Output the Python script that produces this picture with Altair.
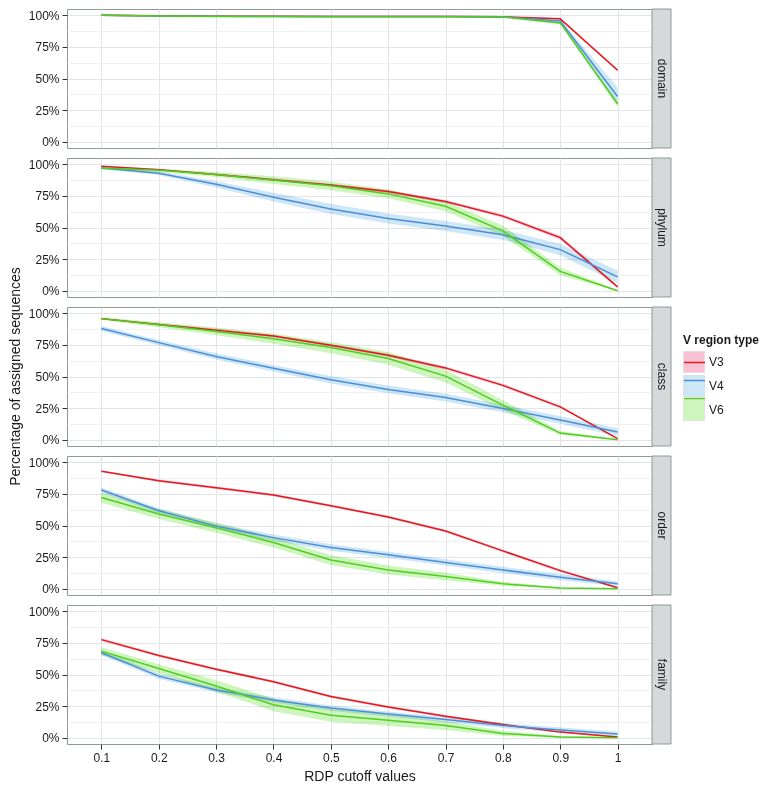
import altair as alt
import pandas as pd

cutoffs = ["0.1", "0.2", "0.3", "0.4", "0.5", "0.6", "0.7", "0.8", "0.9", "1"]
levels = ["domain", "phylum", "class", "order", "family"]
regions = ["V3", "V4", "V6"]

# mean percentage of assigned sequences
domain_V3 = [100.0, 99.6, 99.3, 99.2, 99.1, 99.1, 99.1, 98.9, 97.2, 56.5]
domain_V4 = [100.0, 99.5, 99.2, 99.1, 99.0, 99.0, 99.0, 98.8, 95.5, 35.8]
domain_V6 = [100.0, 99.5, 99.1, 99.0, 98.9, 98.9, 98.9, 98.6, 94.0, 29.9]
phylum_V3 = [98.4, 95.8, 92.0, 87.8, 83.6, 78.4, 70.6, 59.0, 42.0, 3.0]
phylum_V4 = [97.1, 93.0, 84.2, 74.0, 64.7, 57.1, 51.2, 44.2, 32.5, 10.9]
phylum_V6 = [97.1, 95.3, 92.0, 87.5, 83.0, 76.6, 66.8, 47.3, 15.3, 0.0]
class_V3 = [95.8, 91.1, 86.7, 82.0, 74.7, 66.9, 56.8, 43.0, 26.0, 0.8]
class_V4 = [88.0, 76.8, 65.9, 56.5, 47.4, 39.8, 33.3, 24.7, 15.6, 6.0]
class_V6 = [95.8, 90.9, 85.7, 79.9, 72.9, 64.3, 50.3, 27.3, 5.2, 0.0]
order_V3 = [93.0, 85.4, 79.9, 74.2, 65.6, 56.8, 45.6, 29.9, 14.3, 0.8]
order_V4 = [78.1, 61.7, 49.5, 40.4, 32.6, 26.8, 20.8, 14.8, 9.1, 3.9]
order_V6 = [72.1, 59.1, 48.2, 36.5, 22.7, 14.8, 9.6, 3.9, 0.5, 0.0]
family_V3 = [77.6, 65.1, 54.2, 44.3, 32.6, 24.2, 16.9, 10.4, 4.4, 0.5]
family_V4 = [67.2, 48.7, 37.8, 29.9, 23.4, 18.8, 14.3, 9.6, 6.0, 2.9]
family_V6 = [68.5, 54.7, 40.9, 26.0, 17.7, 13.8, 9.6, 3.4, 0.5, 0.0]

# half-width of the shaded band (standard error)
domain_V3_se = [0.2, 0.3, 0.3, 0.3, 0.3, 0.3, 0.3, 0.3, 0.5, 1.0]
domain_V4_se = [0.2, 0.3, 0.3, 0.3, 0.3, 0.3, 0.3, 0.4, 1.2, 7.0]
domain_V6_se = [0.2, 0.3, 0.3, 0.3, 0.3, 0.3, 0.3, 0.4, 1.0, 2.5]
phylum_V3_se = [0.5, 0.6, 0.8, 1.0, 1.0, 1.0, 1.2, 1.2, 1.5, 1.0]
phylum_V4_se = [1.0, 1.5, 2.5, 3.5, 4.0, 4.0, 4.0, 4.0, 4.5, 5.0]
phylum_V6_se = [1.0, 1.2, 2.0, 3.0, 3.5, 3.5, 4.0, 4.0, 3.0, 0.5]
class_V3_se = [0.5, 0.8, 1.0, 1.0, 1.0, 1.2, 1.2, 1.2, 1.0, 0.5]
class_V4_se = [2.0, 2.0, 2.5, 2.5, 3.0, 3.0, 3.0, 3.0, 3.0, 3.0]
class_V6_se = [1.0, 2.0, 3.0, 4.0, 4.5, 5.0, 5.0, 4.0, 1.5, 0.3]
order_V3_se = [0.5, 1.0, 1.0, 1.0, 1.0, 1.0, 1.0, 1.0, 1.0, 0.5]
order_V4_se = [2.0, 2.0, 2.0, 2.5, 2.5, 2.5, 2.5, 2.5, 2.5, 2.0]
order_V6_se = [4.0, 4.0, 4.0, 4.0, 4.0, 3.5, 3.0, 1.5, 0.5, 0.2]
family_V3_se = [1.0, 1.0, 1.0, 1.0, 1.0, 1.0, 1.0, 0.8, 0.5, 0.3]
family_V4_se = [2.0, 2.0, 2.0, 2.0, 2.0, 2.0, 2.0, 2.0, 2.0, 2.0]
family_V6_se = [3.0, 3.5, 4.5, 5.0, 5.0, 4.5, 3.5, 2.0, 0.8, 0.2]

y_title = "Percentage of assigned sequences"
x_title = "RDP cutoff values"
legend_title = "V region type"

means = {
    "domain": [domain_V3, domain_V4, domain_V6],
    "phylum": [phylum_V3, phylum_V4, phylum_V6],
    "class": [class_V3, class_V4, class_V6],
    "order": [order_V3, order_V4, order_V6],
    "family": [family_V3, family_V4, family_V6],
}
ses = {
    "domain": [domain_V3_se, domain_V4_se, domain_V6_se],
    "phylum": [phylum_V3_se, phylum_V4_se, phylum_V6_se],
    "class": [class_V3_se, class_V4_se, class_V6_se],
    "order": [order_V3_se, order_V4_se, order_V6_se],
    "family": [family_V3_se, family_V4_se, family_V6_se],
}

rows = []
for lev in levels:
    for r, m, s in zip(regions, means[lev], ses[lev]):
        for c, v, e in zip(cutoffs, m, s):
            rows.append({"level": lev, "cutoff": c, "region": r, "region_f": r,
                         "value": v, "lo": v - e, "hi": v + e})
df = pd.DataFrame(rows)

line_colors = ["#e31a1c", "#4a8fd6", "#4fcf1d"]
fill_colors = ["#f9c2d4", "#cfe6f7", "#cdf5bd"]

W, H = 585, 139
STRIP = 19
GRID_MAJOR = "#e1e5e8"
GRID_MINOR = "#eff1f3"
BORDER = "#8f9999"
LEG_X, LEG_Y = 616, 326

major_test = "datum.value % 25 === 0"
y_vals = [0, 12.5, 25, 37.5, 50, 62.5, 75, 87.5, 100]

y_axis = alt.Axis(
    title=None,
    values=y_vals,
    labelExpr="datum.value % 25 === 0 ? datum.value + '%' : ''",
    tickOpacity={"condition": {"test": major_test, "value": 1}, "value": 0},
    gridColor={"condition": {"test": major_test, "value": GRID_MAJOR}, "value": GRID_MINOR},
    grid=True, domain=False, tickSize=5, tickColor="#333333",
    labelFontSize=12, labelColor="#1a1a1a", labelPadding=3,
)


def x_axis(bottom):
    if bottom:
        return alt.Axis(title=x_title, labelAngle=0, grid=True, gridColor=GRID_MAJOR,
                        domain=False, tickSize=5, tickColor="#333333", labelFontSize=12,
                        labelColor="#1a1a1a", labelPadding=3, titleFontSize=14,
                        titleFontWeight="normal", titleColor="#1a1a1a", titlePadding=6)
    return alt.Axis(title=None, labels=False, ticks=False, domain=False, grid=True,
                    gridColor=GRID_MAJOR)


yscale = alt.Scale(domain=[-5, 105], nice=False, zero=False)
xscale = alt.Scale(type="point", padding=0.6)


def panel(lev, i):
    d = df[df.level == lev]
    bottom = i == len(levels) - 1
    x = alt.X("cutoff:N", sort=cutoffs, scale=xscale, axis=x_axis(bottom))
    area = alt.Chart(d).mark_area(blend="multiply").encode(
        x=x,
        y=alt.Y("lo:Q", scale=yscale, axis=y_axis),
        y2="hi:Q",
        fill=alt.Fill("region_f:N", scale=alt.Scale(domain=regions, range=fill_colors),
                      legend=alt.Legend(title=legend_title, orient="none", legendX=LEG_X,
                                        legendY=LEG_Y, symbolType="square", symbolSize=441,
                                        symbolStrokeWidth=0.6, symbolStrokeColor="#d6d6d6",
                                        rowPadding=0, titleFontSize=12, titleFontWeight="bold",
                                        titleColor="#1a1a1a", labelFontSize=12,
                                        labelColor="#1a1a1a", titlePadding=4, labelOffset=4)),
    )
    line = alt.Chart(d).mark_line(strokeWidth=1.5).encode(
        x=x,
        y=alt.Y("value:Q", scale=yscale, axis=y_axis),
        stroke=alt.Stroke("region:N", scale=alt.Scale(range=line_colors),
                          legend=alt.Legend(title=" ", orient="none", legendX=LEG_X,
                                            legendY=LEG_Y, symbolType="stroke", symbolSize=441,
                                            symbolStrokeWidth=1.5, rowPadding=0,
                                            titleFontSize=12, titleFontWeight="bold",
                                            titleOpacity=0, labelFontSize=12,
                                            labelExpr="''", titlePadding=4, labelOffset=4)),
    )
    lab = pd.DataFrame({"level": [lev], "ytitle": [y_title]})
    strip_bg = alt.Chart(lab).mark_rect(fill="#d5d9d9", stroke=BORDER, strokeWidth=1).encode(
        x=alt.value(W), x2=alt.value(W + STRIP), y=alt.value(0), y2=alt.value(H))
    strip_txt = alt.Chart(lab).mark_text(angle=90, fontSize=12, color="#1a1a1a",
                                         baseline="middle", align="center").encode(
        x=alt.value(W + STRIP / 2), y=alt.value(H / 2), text="level:N")
    layers = [area, line, strip_bg, strip_txt]
    if lev == "class":
        ytxt = alt.Chart(lab).mark_text(angle=270, fontSize=14, color="#1a1a1a",
                                        baseline="middle", align="center").encode(
            x=alt.value(-51), y=alt.value(H / 2), text="ytitle:N")
        layers.append(ytxt)
    return alt.layer(*layers).properties(width=W, height=H)


chart = alt.vconcat(*[panel(lev, i) for i, lev in enumerate(levels)], spacing=10,
                    bounds="flush").properties(
    padding={"left": 0, "top": 0, "right": 0, "bottom": 0}
).configure(font="Liberation Sans").configure_view(stroke=BORDER, strokeWidth=1)

chart.save("out.html", embed_options={"renderer": "svg", "actions": False})
